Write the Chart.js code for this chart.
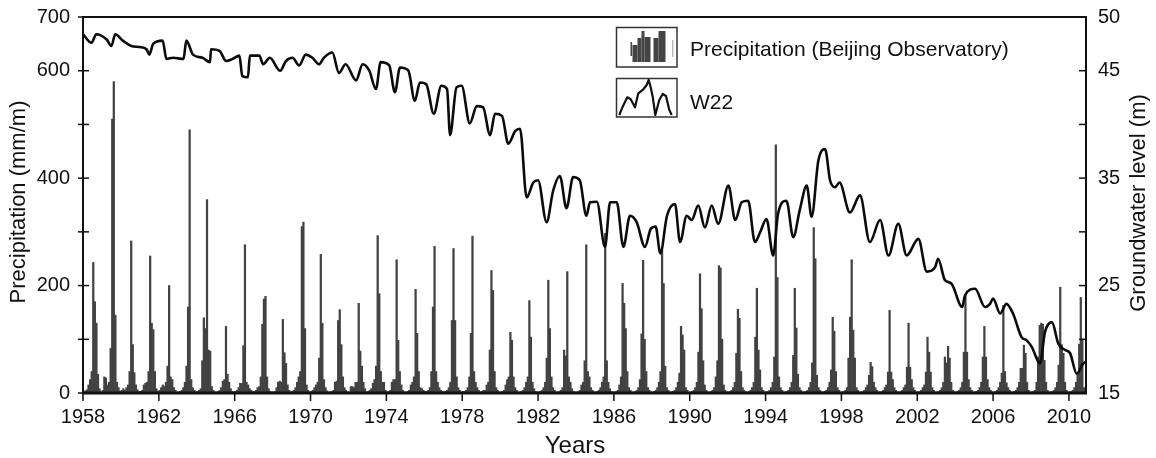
<!DOCTYPE html>
<html><head><meta charset="utf-8">
<script src="https://cdn.jsdelivr.net/npm/chart.js@4.4.1/dist/chart.umd.min.js"></script>
<style>html,body{margin:0;padding:0;background:#fff;}#wrap{width:1156px;height:458px;}</style>
</head><body><div id="wrap"><canvas id="c" width="1156" height="458"></canvas></div>
<script>
// ---- data ----
const precipYears = [1958,1959,1960,1961,1962,1963,1964,1965,1966,1967,1968,1969,1970,1971,1972,1973,1974,1975,1976,1977,1978,1979,1980,1981,1982,1983,1984,1985,1986,1987,1988,1989,1990,1991,1992,1993,1994,1995,1996,1997,1998,1999,2000,2001,2002,2003,2004,2005,2006,2007,2008,2009,2010];
// monthly precipitation (mm), Jan..Dec, one row per year
const precipMonthly = [
[2,4,6,15,25,40,243,170,130,35,8,2],
[5,30,28,15,20,83,510,580,145,20,10,3],
[5,8,5,10,15,40,283,90,38,15,6,3],
[3,5,15,18,20,40,255,130,118,40,8,3],
[5,10,15,12,20,50,200,30,25,10,5,2],
[2,3,5,10,20,50,160,490,25,10,5,2],
[3,5,8,60,140,120,360,80,78,12,5,2],
[2,3,5,10,22,25,124,35,20,8,3,2],
[3,5,10,18,18,88,276,20,15,8,5,2],
[3,5,10,12,30,128,175,180,30,8,3,2],
[2,3,10,20,22,20,137,75,55,15,5,2],
[3,5,10,20,30,40,310,318,120,15,5,2],
[3,5,10,15,20,65,258,130,25,10,4,2],
[2,3,5,20,22,135,155,90,30,10,5,2],
[2,12,12,10,20,20,167,78,50,20,8,2],
[3,5,8,18,25,50,293,185,40,20,20,5],
[2,3,5,20,25,25,248,98,40,15,5,2],
[2,3,5,15,20,30,193,111,40,10,8,5],
[3,3,5,10,40,160,273,40,20,10,5,2],
[3,3,5,10,20,135,269,135,30,10,5,2],
[3,3,5,10,30,111,292,40,20,10,5,2],
[3,5,5,15,20,80,228,191,40,10,5,2],
[2,3,5,15,25,30,113,98,30,10,5,2],
[2,3,5,10,20,30,172,104,20,8,3,2],
[2,3,5,10,20,65,210,120,30,10,5,2],
[2,3,5,10,80,69,226,30,20,8,3,2],
[2,3,5,15,20,60,276,40,30,10,5,2],
[2,3,5,10,20,30,297,60,20,8,3,2],
[2,3,5,15,30,204,167,120,40,10,5,2],
[2,3,5,10,25,110,247,100,40,10,5,2],
[2,3,5,10,20,40,265,204,50,10,5,2],
[2,3,5,10,20,37,124,108,80,10,5,2],
[2,3,5,10,20,76,222,157,60,15,5,2],
[2,3,5,10,30,60,237,233,100,15,5,2],
[2,3,5,10,20,74,156,139,40,10,5,2],
[2,3,5,10,20,104,195,80,43,10,5,2],
[2,3,5,10,20,67,462,215,30,10,5,2],
[2,3,5,10,20,70,195,121,35,10,5,2],
[2,3,5,10,20,56,308,250,33,10,5,2],
[2,3,5,10,20,43,141,115,40,10,5,2],
[2,3,5,10,65,141,248,117,65,10,5,2],
[2,3,5,10,15,33,57,49,20,10,5,2],
[2,3,5,10,15,39,154,39,25,10,5,2],
[2,3,5,10,15,48,130,48,25,10,5,2],
[2,3,5,10,15,39,104,76,39,10,5,2],
[2,3,5,10,20,67,56,87,65,20,5,2],
[2,3,5,10,20,76,182,76,25,10,5,2],
[2,3,5,10,20,67,124,67,25,10,5,2],
[2,3,5,10,20,37,163,40,19,10,5,2],
[2,3,5,10,20,46,46,89,74,20,5,2],
[2,3,5,20,67,126,130,128,61,20,5,2],
[2,3,5,10,20,52,197,90,74,20,5,2],
[2,3,5,10,20,37,91,178,98,10,5,2]
];
// groundwater level W22 (m), read at turning points (decimal year)
const gwTime = [1958.0,1958.45,1958.7,1959.25,1959.5,1959.7,1960.1,1960.55,1961.0,1961.35,1961.5,1961.7,1962.2,1962.4,1962.75,1963.3,1963.45,1963.8,1964.3,1964.7,1964.75,1965.2,1965.55,1965.9,1966.25,1966.4,1966.7,1966.8,1967.3,1967.5,1967.85,1968.4,1968.7,1969.05,1969.4,1969.75,1970.1,1970.45,1970.7,1971.15,1971.5,1971.85,1972.4,1972.75,1973.1,1973.45,1973.7,1974.15,1974.45,1974.72,1975.16,1975.5,1975.77,1976.1,1976.5,1976.9,1977.2,1977.36,1977.7,1977.97,1978.4,1978.77,1979.1,1979.47,1979.73,1980.1,1980.43,1980.8,1981.05,1981.4,1981.75,1982.0,1982.45,1982.8,1983.15,1983.5,1983.85,1984.2,1984.55,1984.74,1985.1,1985.53,1985.8,1986.15,1986.5,1986.85,1987.2,1987.64,1987.95,1988.2,1988.45,1988.8,1989.22,1989.49,1989.84,1990.1,1990.45,1990.8,1991.16,1991.5,1992.04,1992.4,1992.74,1993.08,1993.44,1993.7,1994.05,1994.4,1994.66,1995.1,1995.46,1995.8,1996.17,1996.43,1996.78,1997.14,1997.4,1997.66,1997.9,1998.45,1998.98,1999.5,2000.04,2000.48,2001.0,2001.44,2002.06,2002.5,2002.94,2003.1,2003.46,2003.8,2004.37,2004.52,2005.05,2005.57,2005.84,2006.0,2006.37,2006.7,2007.05,2007.5,2007.77,2008.04,2008.47,2008.74,2009.1,2009.44,2009.8,2010.06,2010.41,2010.76,2010.9];
const gwLevel = [48.4,47.6,48.4,47.9,47.3,48.4,47.8,47.3,47.2,47.0,46.5,47.5,47.8,46.1,46.2,46.1,47.8,46.5,46.2,45.8,47.0,46.85,45.9,46.1,46.4,44.5,44.4,46.4,46.4,45.6,46.2,45.0,45.9,46.2,45.5,46.5,46.2,45.6,46.2,46.7,44.8,45.6,44.1,45.6,45.0,43.3,45.8,45.5,43.0,45.3,45.0,42.2,43.9,43.75,41.0,43.6,43.3,39.0,43.45,43.6,40.1,41.7,41.6,39.0,41.0,40.8,38.2,39.4,39.6,33.2,34.6,34.8,30.9,33.85,35.2,32.2,35.1,34.8,31.5,32.75,32.8,28.6,32.75,32.75,28.6,31.5,30.9,28.6,30.3,30.5,28.0,31.5,32.6,29.05,31.5,31.1,32.45,30.4,32.45,30.75,34.3,31.1,32.75,32.9,29.05,29.9,31.2,27.8,31.7,32.9,29.5,32.0,34.3,31.4,36.6,37.7,34.8,34.15,34.6,31.8,33.4,29.05,31.1,27.8,30.75,27.8,29.35,26.3,26.7,27.5,25.5,25.2,23.0,24.1,24.7,23.0,23.3,23.8,22.4,23.3,22.4,20.2,19.9,19.3,17.75,20.7,21.6,19.6,19.0,18.7,16.8,17.75,17.9];
const xTickValues = [1958,1962,1966,1970,1974,1978,1982,1986,1990,1994,1998,2002,2006,2010];
const precipTicks = [0,100,200,300,400,500,600,700];
const precipTickLabels = ['0','','200','','400','','600','700'];
const gwTicks = [15,20,25,30,35,40,45,50];
const gwTickLabels = ['15','','25','','35','','45','50'];
const legendLabels = ['Precipitation (Beijing Observatory)','W22'];

// ---- build datasets ----
const barPoints = [];
precipYears.forEach((yr, i) => {
  precipMonthly[i].forEach((v, m) => barPoints.push({x: yr + (m + 0.5) / 12, y: v}));
});
const linePoints = gwTime.map((t, i) => ({x: t, y: gwLevel[i]}));

const FONT = '"Liberation Sans", Arial, Helvetica, sans-serif';
const INK = '#111';

const decor = {
  id: 'decor',
  afterDraw(chart) {
    const {ctx, chartArea: a, scales} = chart;
    const ln = (x1, y1, x2, y2) => { ctx.beginPath(); ctx.moveTo(x1, y1); ctx.lineTo(x2, y2); ctx.stroke(); };
    ctx.save();
    ctx.strokeStyle = INK;
    ctx.lineWidth = 2;
    ctx.beginPath();
    ctx.moveTo(a.left, a.bottom); ctx.lineTo(a.left, a.top); ctx.lineTo(a.right, a.top); ctx.lineTo(a.right, a.bottom);
    ctx.stroke();
    ctx.lineWidth = 3;
    ln(a.left - 1, a.bottom, a.right + 1, a.bottom);
    ctx.lineWidth = 1.5;
    scales.y.ticks.forEach(t => { const y = scales.y.getPixelForValue(t.value); ln(a.left - 5, y, a.left + 6, y); });
    scales.y2.ticks.forEach(t => { const y = scales.y2.getPixelForValue(t.value); ln(a.right - 7, y, a.right, y); });
    scales.x.ticks.forEach(t => { const x = scales.x.getPixelForValue(t.value); ln(x, a.bottom, x, a.bottom + 8); });

    // axis titles
    ctx.fillStyle = INK;
    ctx.textAlign = 'center';
    ctx.textBaseline = 'middle';
    ctx.font = '22px ' + FONT;
    ctx.save(); ctx.translate(19, 202); ctx.rotate(-Math.PI / 2); ctx.fillText('Precipitation (mm/m)', 0, 0); ctx.restore();
    ctx.save(); ctx.translate(1139, 203); ctx.rotate(-Math.PI / 2); ctx.fillText('Groundwater level (m)', 0, 0); ctx.restore();
    ctx.font = '24px ' + FONT;
    ctx.textBaseline = 'alphabetic';
    ctx.fillText('Years', 575, 453);

    // legend
    ctx.lineWidth = 1.5;
    ctx.strokeStyle = '#333';
    ctx.strokeRect(616.5, 27.5, 60.5, 39.5);
    ctx.strokeRect(616.5, 78.5, 60.5, 38.5);
    ctx.fillStyle = '#444';
    const bottom = 62;
    [[630.5,1.6,42,56],[632.5,5,45,bottom],[637.5,4,38,bottom],[641.5,3,31,bottom],[644.5,6,37,bottom],[653.5,5,38,bottom],[658.5,7,31,bottom]]
      .forEach(r => ctx.fillRect(r[0], r[2], r[1], r[3] - r[2]));
    ctx.fillStyle = '#bbb';
    ctx.fillRect(672, 40, 1.5, 17);
    ctx.strokeStyle = INK; ctx.lineWidth = 2.2; ctx.lineJoin = 'round';
    const pts = [[619.3,115],[622.7,106.7],[627.3,97.3],[630.7,99.3],[635,107.3],[638.3,93.3],[643.3,89.3],[646.7,85],[648.7,80],[650.7,87.3],[652.7,96.7],[655.3,115],[659.3,100],[662.7,94],[666,96],[669.3,110],[671.7,115]];
    ctx.beginPath(); pts.forEach((p, i) => i ? ctx.lineTo(p[0], p[1]) : ctx.moveTo(p[0], p[1])); ctx.stroke();
    ctx.fillStyle = INK;
    ctx.textAlign = 'left';
    ctx.font = '21px ' + FONT;
    ctx.fillText(legendLabels[0], 690, 56);
    ctx.fillText(legendLabels[1], 690, 109);
    ctx.restore();
  }
};

new Chart(document.getElementById('c'), {
  type: 'bar',
  data: {
    datasets: [
      {type: 'line', label: legendLabels[1], data: linePoints, yAxisID: 'y2', borderColor: '#0b0b0b', borderWidth: 2.6,
       pointRadius: 0, cubicInterpolationMode: 'monotone', borderJoinStyle: 'round', order: 0},
      {type: 'bar', label: legendLabels[0], data: barPoints, yAxisID: 'y', backgroundColor: '#424242', borderWidth: 0,
       barPercentage: 1, categoryPercentage: 1, order: 1}
    ]
  },
  options: {
    responsive: false, animation: false, devicePixelRatio: 1,
    layout: {padding: {top: 16, left: 0, right: 0, bottom: 0}},
    plugins: {legend: {display: false}, tooltip: {enabled: false}},
    scales: {
      x: {type: 'linear', min: 1958, max: 2010.9, offset: false,
          grid: {display: false}, border: {display: false},
          afterBuildTicks: s => { s.ticks = xTickValues.map(v => ({value: v})); },
          afterFit: s => { s.height = 65; },
          ticks: {autoSkip: false, maxRotation: 0, padding: 4, color: INK, font: {size: 20, family: FONT}, callback: v => String(v)}},
      y: {position: 'left', min: 0, max: 700,
          grid: {display: false}, border: {display: false},
          afterBuildTicks: s => { s.ticks = precipTicks.map(v => ({value: v})); },
          afterFit: s => { s.width = 83; },
          ticks: {padding: 5, color: INK, font: {size: 20, family: FONT}, callback: (v, i) => precipTickLabels[i]}},
      y2: {position: 'right', min: 15, max: 50,
          grid: {display: false}, border: {display: false},
          afterBuildTicks: s => { s.ticks = gwTicks.map(v => ({value: v})); },
          afterFit: s => { s.width = 70; },
          ticks: {padding: 4, color: INK, font: {size: 20, family: FONT}, callback: (v, i) => gwTickLabels[i]}}
    }
  },
  plugins: [decor]
});
</script></body></html>
